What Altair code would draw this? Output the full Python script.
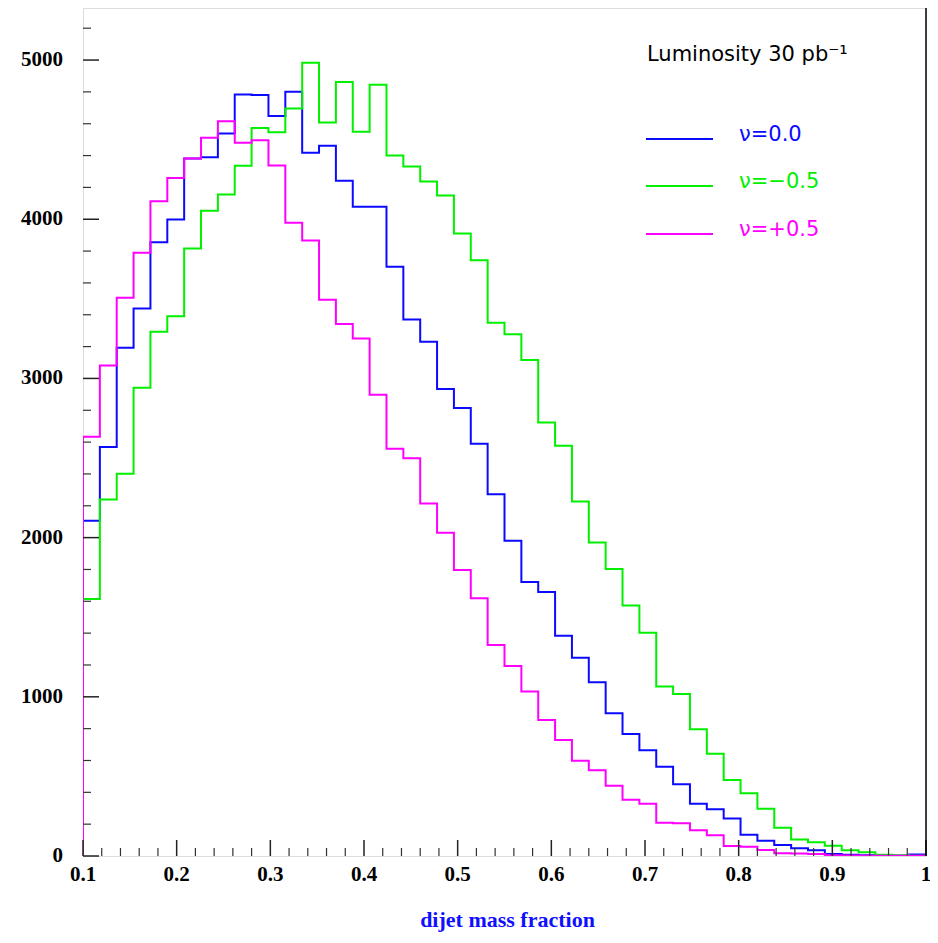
import altair as alt
import pandas as pd

# ---- data (50 bins, 0.1 .. 1.0, width 0.018) ----
x_start = 0.1
x_end = 1.0
bin_width = 0.018

blue = [2106, 2569, 3193, 3440, 3855, 3999, 4382, 4389, 4539, 4784,
        4780, 4648, 4801, 4418, 4462, 4242, 4079, 4079, 3702, 3370,
        3230, 2933, 2814, 2589, 2272, 1981, 1721, 1658, 1384, 1246,
        1091, 896, 766, 665, 561, 450, 329, 293, 235, 134,
        96, 69, 48, 36, 12, 8, 5, 3, 2, 10]

green = [1614, 2240, 2402, 2942, 3293, 3390, 3817, 4053, 4156, 4336,
         4573, 4546, 4696, 4983, 4608, 4862, 4550, 4845, 4401, 4332,
         4237, 4149, 3911, 3742, 3350, 3277, 3116, 2723, 2577, 2227,
         1969, 1803, 1573, 1403, 1064, 1018, 796, 643, 477, 394,
         297, 178, 103, 86, 65, 36, 23, 8, 4, 2]

pink = [2634, 3082, 3507, 3790, 4113, 4259, 4382, 4512, 4615, 4481,
        4497, 4338, 3978, 3867, 3494, 3342, 3251, 2898, 2558, 2498,
        2215, 2031, 1796, 1619, 1325, 1193, 1033, 854, 729, 599,
        538, 442, 354, 329, 209, 205, 161, 130, 63, 58,
        38, 17, 15, 12, 4, 3, 2, 1, 1, 1]

series_names = ["\u03bd=0.0", "\u03bd=\u22120.5", "\u03bd=+0.5"]
series_colors = ["#0a0aff", "#00f000", "#ff00ff"]

x_labels = [0.1, 0.2, 0.3, 0.4, 0.5, 0.6, 0.7, 0.8, 0.9, 1.0]
x_label_text = ["0.1", "0.2", "0.3", "0.4", "0.5", "0.6", "0.7", "0.8", "0.9", "1"]
x_minor = [0.12, 0.14, 0.16, 0.18, 0.22, 0.24, 0.26, 0.28, 0.32, 0.34, 0.36, 0.38,
           0.42, 0.44, 0.46, 0.48, 0.52, 0.54, 0.56, 0.58, 0.62, 0.64, 0.66, 0.68,
           0.72, 0.74, 0.76, 0.78, 0.82, 0.84, 0.86, 0.88, 0.92, 0.94, 0.96, 0.98]
y_labels = [0, 1000, 2000, 3000, 4000, 5000]
y_label_text = ["0", "1000", "2000", "3000", "4000", "5000"]
y_minor = [200, 400, 600, 800, 1200, 1400, 1600, 1800, 2200, 2400, 2600, 2800,
           3200, 3400, 3600, 3800, 4200, 4400, 4600, 4800, 5200]

x_title = "dijet mass fraction"
lumi_text = "Luminosity 30 pb\u207b\u00b9"

W = 843
H = 848
y_max = 5327

xs = alt.Scale(domain=[x_start, x_end], nice=False, zero=False)
ys = alt.Scale(domain=[0, y_max], nice=False, zero=False)


def step_frame(vals):
    rows = [(x_start, 0)]
    for i, v in enumerate(vals):
        rows.append((x_start + i * bin_width, v))
    rows.append((x_end, vals[-1]))
    rows.append((x_end, 0))
    return pd.DataFrame({"x": [r[0] for r in rows],
                         "y": [r[1] for r in rows],
                         "idx": list(range(len(rows)))})


serif = "Liberation Serif"
sans = "DejaVu Sans"

x_axis = alt.Axis(labels=False, ticks=False, grid=False, domainColor="black",
                  domainWidth=2, title=None)
y_axis = alt.Axis(labels=False, ticks=False, grid=False, domainColor="black",
                  domainWidth=2, title=None)

layers = []
for k, vals in enumerate([blue, green, pink]):
    df = step_frame(vals)
    layers.append(
        alt.Chart(df).mark_line(interpolate="step-after", strokeWidth=2,
                                color=series_colors[k], clip=True).encode(
            x=alt.X("x:Q", scale=xs, axis=x_axis if k == 0 else None),
            y=alt.Y("y:Q", scale=ys, axis=y_axis if k == 0 else None),
            order="idx:Q",
        )
    )

# inward ticks
yt_major = alt.Chart(pd.DataFrame({"v": y_labels})).mark_rule(color="#222", strokeWidth=1.5).encode(
    y=alt.Y("v:Q", scale=ys, axis=None), x=alt.value(0), x2=alt.value(16))
yt_minor = alt.Chart(pd.DataFrame({"v": y_minor})).mark_rule(color="#333", strokeWidth=1.2).encode(
    y=alt.Y("v:Q", scale=ys, axis=None), x=alt.value(0), x2=alt.value(8))
xt_major = alt.Chart(pd.DataFrame({"v": x_labels})).mark_rule(color="#222", strokeWidth=1.5).encode(
    x=alt.X("v:Q", scale=xs, axis=None), y=alt.value(H), y2=alt.value(H - 16))
xt_minor = alt.Chart(pd.DataFrame({"v": x_minor})).mark_rule(color="#333", strokeWidth=1.2).encode(
    x=alt.X("v:Q", scale=xs, axis=None), y=alt.value(H), y2=alt.value(H - 8))

# tick labels
xl = alt.Chart(pd.DataFrame({"v": x_labels, "t": x_label_text})).mark_text(
    font=serif, fontWeight="bold", fontSize=21, color="black",
    align="center", baseline="top").encode(
    x=alt.X("v:Q", scale=xs, axis=None), y=alt.value(H + 8), text="t:N")
yl = alt.Chart(pd.DataFrame({"v": y_labels, "t": y_label_text})).mark_text(
    font=serif, fontWeight="bold", fontSize=21, color="black",
    align="right", baseline="middle").encode(
    y=alt.Y("v:Q", scale=ys, axis=None), x=alt.value(-20), text="t:N")

one = pd.DataFrame({"a": [0]})
xt = alt.Chart(one).mark_text(text=x_title, font=serif, fontWeight="bold", fontSize=22,
                              color="#1010ff", align="center", baseline="alphabetic").encode(
    x=alt.value(W / 2 + 3), y=alt.value(H + 71))

right_border = alt.Chart(one).mark_rule(color="black", strokeWidth=1.5).encode(
    x=alt.value(W), y=alt.value(0), y2=alt.value(H))

# annotation / legend
lumi = alt.Chart(one).mark_text(text=lumi_text, font=sans, fontSize=21,
                                color="black", align="left", baseline="alphabetic").encode(
    x=alt.value(564), y=alt.value(53))
layers_leg = [lumi]
leg_y = [131, 178, 226]
for k in range(3):
    layers_leg.append(
        alt.Chart(one).mark_rule(color=series_colors[k], strokeWidth=2).encode(
            x=alt.value(563), x2=alt.value(630), y=alt.value(leg_y[k]))
    )
    layers_leg.append(
        alt.Chart(one).mark_text(text=series_names[k], font=sans, fontSize=21,
                                 color=series_colors[k], align="left",
                                 baseline="alphabetic").encode(
            x=alt.value(656), y=alt.value(leg_y[k] + 2))
    )

chart = alt.layer(*layers, yt_major, yt_minor, xt_major, xt_minor, right_border,
                  xl, yl, xt, *layers_leg).properties(
    width=W, height=H,
    autosize=alt.AutoSizeParams(type="none"),
    padding={"left": 75, "top": 0, "right": 4, "bottom": 79},
).configure_view(strokeWidth=0).configure(background="white")

chart.save("out.html", embed_options={"renderer": "svg", "actions": False})
